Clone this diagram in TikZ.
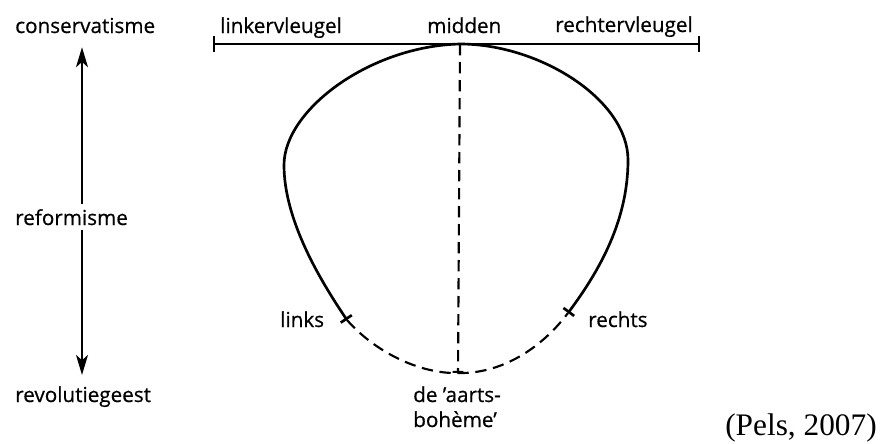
\documentclass[tikz,border=0pt]{standalone}
\usepackage{fontspec}
\setmainfont{Open Sans}[FakeBold=0.6]
\newfontfamily\citefont{Liberation Serif}
\usetikzlibrary{arrows.meta}

\begin{document}
\begin{tikzpicture}[x=0.75pt, y=-0.75pt, every node/.style={font=\fontsize{15.5}{18}\selectfont},
	lbl/.style={anchor=base west, inner xsep=0pt},
	curve/.style={line width=2pt},
	dashline/.style={line width=1.6pt, dash pattern=on 8.5pt off 5pt}]
	\useasboundingbox (0,0) rectangle (880,443);
	\node[lbl] (cons) at (15,33) {conservatisme};
	\node[lbl] (reform) at (15,225) {reformisme};
	\node[lbl] (revol) at (15,402) {revolutiegeest};
	\coordinate (axis) at (82,0);
	\draw[line width=1.5pt, -{Stealth[length=15pt, width=9pt, inset=4pt]}, shorten >=7pt] (reform.north -| axis) -- (cons.south -| axis);
	\draw[line width=1.5pt, -{Stealth[length=15pt, width=9pt, inset=4pt]}, shorten >=5pt] (reform.south -| axis) -- (revol.north -| axis);
	\coordinate (lend) at (213,44); \coordinate (mid) at (460,44); \coordinate (rend) at (700,44);
	\draw[line width=1.7pt, {Bar[width=12pt]}-{Bar[width=12pt]}] (lend) -- (rend);
	\node[lbl] (left) at (220,33) {linkervleugel};
	\node[lbl] (centre) at (427,33) {midden};
	\node[lbl] (right) at (555,32) {rechtervleugel};
	\coordinate (links) at (347,320); \coordinate (rechts) at (568,313); \coordinate (bottom) at (458,373);
	\draw[curve, {Bar[width=10pt]}-{Bar[width=10pt]}] (links) .. controls (320,280) and (284,220) .. (284,165)
		.. controls (284,110) and (370,46) .. (mid) .. controls (540,44) and (628,100) .. (628,160)
		.. controls (628,220) and (600,270) .. (rechts);
	\draw[dashline] (links) .. controls (375,352) and (420,374) .. (bottom) .. controls (500,374) and (540,350) .. (rechts);
	\draw[dashline, -{Bar[width=8pt]}] (mid) -- (bottom);
	\node[lbl] (linkslbl) at (280,327) {links};
	\node[lbl] (rechtslbl) at (588,327) {rechts};
	\node[lbl] (aarts) at (413,402) {de 'aarts-};
	\node[lbl] (boheme) at (413,427) {bohème'};
	\node[lbl, font=\citefont\fontsize{23.5}{26}\selectfont] (cite) at (725,435) {(Pels, 2007)};
\end{tikzpicture}
\end{document}
